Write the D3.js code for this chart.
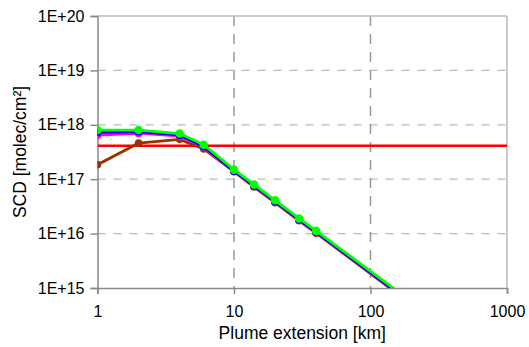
<!DOCTYPE html>
<html><head><meta charset="utf-8">
<script src="https://cdn.jsdelivr.net/npm/d3@7"></script>
<style>body{margin:0;background:#fff}svg{display:block;font-family:"Liberation Sans",Arial,sans-serif}</style>
</head><body><svg id="c" width="529" height="347"></svg>
<script>
const xKm = [1, 2, 4, 6, 10, 14, 20, 30, 40];
const tailKm = 200;
const greenVals   = [8.0e17, 8.0e17, 6.9e17, 4.3e17, 1.5e17, 8.0e16, 4.1e16, 1.9e16, 1.12e16];
const blueVals    = [7.3e17, 7.5e17, 6.5e17, 4.0e17, 1.42e17, 7.6e16, 3.9e16, 1.8e16, 1.07e16];
const magentaVals = [6.5e17, 7.0e17, 6.2e17, 3.9e17, 1.40e17, 7.5e16, 3.85e16, 1.78e16, 1.05e16];
const brownVals   = [1.85e17, 4.6e17, 5.4e17, 3.6e17, 1.38e17, 7.2e16, 3.7e16, 1.72e16, 1.02e16];
const tailVals = {green: 5.6e14, blue: 5.3e14, magenta: 5.2e14, brown: 5.0e14};
const thresholdVal = 4.1e17;
const xTicks = [1, 10, 100, 1000];
const yTicks = [1e15, 1e16, 1e17, 1e18, 1e19, 1e20];
const xLabel = "Plume extension [km]";
const yLabel = "SCD [molec/cm²]";

const svg = d3.select("#c");
const L = 97.5, R = 507, T = 16, B = 288;
const x = d3.scaleLog().domain([1, 1000]).range([L, R]);
const y = d3.scaleLog().domain([1e15, 1e20]).range([B, T]);

// grid
svg.append("g").selectAll("line").data(yTicks.slice(1, -1)).join("line")
  .attr("x1", L).attr("x2", R).attr("y1", d => y(d)).attr("y2", d => y(d))
  .attr("stroke", "#bbb").attr("stroke-width", 1.2).attr("stroke-dasharray", "8,8");
svg.append("g").selectAll("line").data(xTicks.slice(1, -1)).join("line")
  .attr("y1", T).attr("y2", B).attr("x1", d => x(d)).attr("x2", d => x(d))
  .attr("stroke", "#999").attr("stroke-width", 1.5).attr("stroke-dasharray", "10,8");

// border
svg.append("line").attr("x1", L).attr("x2", R).attr("y1", T).attr("y2", T).attr("stroke", "#bbb").attr("stroke-width", 1.5);
svg.append("line").attr("x1", R).attr("x2", R).attr("y1", T).attr("y2", B).attr("stroke", "#bbb").attr("stroke-width", 1.5);

// axes
const fmt = d => "1E+" + Math.round(Math.log10(d));
const yAx = svg.append("g").attr("transform", `translate(${L},0)`)
  .call(d3.axisLeft(y).tickValues(yTicks).tickFormat(fmt).tickSize(7).tickPadding(6));
const xAx = svg.append("g").attr("transform", `translate(0,${B})`)
  .call(d3.axisBottom(x).tickValues(xTicks).tickFormat(d3.format("d")).tickSize(6).tickPadding(12));
[yAx, xAx].forEach(a => {
  a.select(".domain").attr("stroke", "#888").attr("stroke-width", 1.5);
  a.selectAll(".tick line").attr("stroke", "#888").attr("stroke-width", 1.5);
  a.selectAll("text").attr("font-size", 16).attr("fill", "#000").attr("font-family", "Liberation Sans, Arial, sans-serif");
});

// clip
svg.append("clipPath").attr("id", "clip").append("rect").attr("x", L).attr("y", T).attr("width", R - L).attr("height", B - T);
const g = svg.append("g").attr("clip-path", "url(#clip)");

// threshold
g.append("line").attr("x1", L).attr("x2", R).attr("y1", y(thresholdVal)).attr("y2", y(thresholdVal))
  .attr("stroke", "#ff0000").attr("stroke-width", 2.5);

const series = [
  {key: "brown", vals: brownVals, color: "#993300", r: 3.8},
  {key: "magenta", vals: magentaVals, color: "#ff00ff", r: 4},
  {key: "blue", vals: blueVals, color: "#0000ff", r: 4},
  {key: "green", vals: greenVals, color: "#00ff00", r: 4.3},
];
const line = d3.line().x(d => x(d[0])).y(d => y(d[1]));
series.forEach(s => {
  const pts = xKm.map((k, i) => [k, s.vals[i]]);
  const all = pts.concat([[tailKm, tailVals[s.key]]]);
  g.append("path").datum(all).attr("d", line).attr("fill", "none")
    .attr("stroke", s.color).attr("stroke-width", 2.8);
  g.append("g").selectAll("circle").data(pts).join("circle")
    .attr("cx", d => x(d[0])).attr("cy", d => y(d[1])).attr("r", s.r).attr("fill", s.color);
});

svg.append("text").attr("x", (L + R) / 2).attr("y", 339).attr("text-anchor", "middle")
  .attr("font-size", 17.5).text(xLabel);
svg.append("text").attr("transform", "translate(26,152) rotate(-90)").attr("text-anchor", "middle")
  .attr("font-size", 17.5).text(yLabel);
</script></body></html>
